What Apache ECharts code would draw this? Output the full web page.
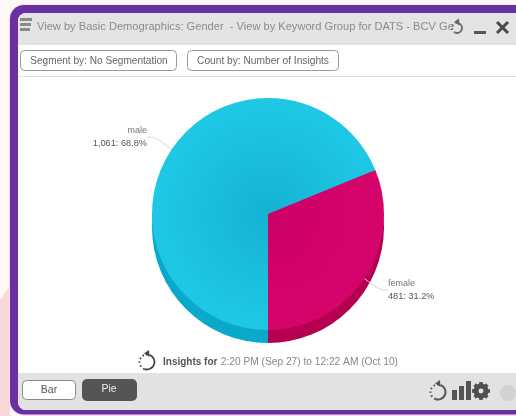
<!DOCTYPE html>
<html>
<head>
<meta charset="utf-8">
<style>html,body{margin:0;padding:0;background:#fdf8f7}#c{width:516px;height:416px}</style>
<script src="https://cdn.jsdelivr.net/npm/echarts@6/dist/echarts.min.js"></script>
</head>
<body>
<div id="c"></div>
<script>
// Gender split of the collected insights
const genders = ['male', 'female'];
const insights = [1061, 481];
const faceColors = [['#15b2d2', '#1ec7e4'], ['#cb0065', '#d5046b']];
const sideColors = ['#0aa9c9', '#b50052'];

const titleText = 'View by Basic Demographics: Gender  - View by Keyword Group for DATS - BCV Ge';
const segmentText = 'Segment by: No Segmentation';
const countText = 'Count by: Number of Insights';
const periodText = '2:20 PM (Sep 27) to 12:22 AM (Oct 10)';

const FONT = '"Liberation Sans", Arial, sans-serif';
const PIE_X = 268, PIE_Y = 214, PIE_R = 116, PIE_DEPTH = 13;

const chart = echarts.init(document.getElementById('c'));
const total = insights.reduce((a, b) => a + b, 0);

function faceFill(pair) {
  return {
    type: 'radial', global: true, x: PIE_X, y: PIE_Y, r: PIE_R,
    colorStops: [{ offset: 0, color: pair[0] }, { offset: 0.9, color: pair[1] }, { offset: 1, color: pair[1] }]
  };
}

function text(x, y, str, size, color, extra) {
  return {
    type: 'text', x, y, silent: true,
    style: Object.assign({ text: str, fontFamily: FONT, fontSize: size, fill: color, verticalAlign: 'middle' }, extra || {})
  };
}

function button(x, y, w, h, fill, stroke) {
  return {
    type: 'rect', silent: true,
    shape: { x, y, width: w, height: h, r: 4 },
    style: { fill, stroke, lineWidth: 1 }
  };
}

// Reload glyph: dotted left half, solid right half and a small arrow on top
function spinner(cx, cy, r, color, lw) {
  const rad = a => a * Math.PI / 180;
  return [
    { type: 'arc', silent: true, shape: { cx, cy, r, startAngle: rad(-70), endAngle: rad(110) },
      style: { stroke: color, fill: 'none', lineWidth: lw } },
    { type: 'arc', silent: true, shape: { cx, cy, r, startAngle: rad(110), endAngle: rad(270) },
      style: { stroke: color, fill: 'none', lineWidth: lw, lineDash: [1.5, 2.5] } },
    { type: 'polygon', silent: true,
      shape: { points: [[cx - 3, cy - r - 1], [cx + 2, cy - r - 4.5], [cx + 2.5, cy - r + 2.5]] },
      style: { fill: color } }
  ];
}

function gear(cx, cy, r, color) {
  const parts = [{ type: 'circle', silent: true, shape: { cx, cy, r: r * 0.62 },
    style: { fill: 'none', stroke: color, lineWidth: r * 0.62 } }];
  for (let i = 0; i < 8; i++) {
    const a = i * Math.PI / 4;
    parts.push({ type: 'line', silent: true,
      shape: { x1: cx + Math.cos(a) * r * 0.7, y1: cy + Math.sin(a) * r * 0.7, x2: cx + Math.cos(a) * r * 1.12, y2: cy + Math.sin(a) * r * 1.12 },
      style: { stroke: color, lineWidth: r * 0.46 } });
  }
  return parts;
}

const chrome = [
  // page backdrop and window frame
  { type: 'polygon', silent: true, shape: { points: [[0, 300], [10, 286], [10, 416], [0, 416]] }, style: { fill: '#f8d9d5' } },
  { type: 'rect', silent: true, shape: { x: 9, y: 4, width: 540, height: 412, r: 15 }, style: { fill: '#f5e2f4' } },
  { type: 'rect', silent: true, shape: { x: 10, y: 5, width: 540, height: 409.5, r: 14 }, style: { fill: '#6a2fa0' } },
  { type: 'rect', silent: true, shape: { x: 18, y: 13, width: 530, height: 397, r: 8 }, style: { fill: '#ffffff' } },
  // title bar
  { type: 'rect', silent: true, shape: { x: 18, y: 13, width: 530, height: 32, r: [8, 0, 0, 0] }, style: { fill: '#e4e4e4' } },
  { type: 'rect', silent: true, shape: { x: 20, y: 18, width: 12, height: 3 }, style: { fill: '#8a8a8a' } },
  { type: 'rect', silent: true, shape: { x: 20, y: 23, width: 11, height: 3 }, style: { fill: '#8a8a8a' } },
  { type: 'rect', silent: true, shape: { x: 20, y: 28, width: 10, height: 3 }, style: { fill: '#8a8a8a' } },
  text(37, 27, titleText, 11.1, '#8b8b8b'),
  ...spinner(457, 28, 5, '#666', 1.8),
  { type: 'rect', silent: true, shape: { x: 474, y: 31, width: 12, height: 3 }, style: { fill: '#555' } },
  { type: 'line', silent: true, shape: { x1: 497, y1: 22, x2: 508, y2: 33 }, style: { stroke: '#4a4a4a', lineWidth: 3 } },
  { type: 'line', silent: true, shape: { x1: 508, y1: 22, x2: 497, y2: 33 }, style: { stroke: '#4a4a4a', lineWidth: 3 } },
  // segmentation controls
  button(20.5, 50.5, 156, 20, '#fff', '#9a9a9a'),
  text(99, 61, segmentText, 10.1, '#666', { align: 'center' }),
  button(187.5, 50.5, 151, 20, '#fff', '#9a9a9a'),
  text(263, 61, countText, 10.2, '#666', { align: 'center' }),
  { type: 'rect', silent: true, shape: { x: 18, y: 76, width: 530, height: 1 }, style: { fill: '#dedede' } },
  // reporting period
  ...spinner(147, 362, 7.5, '#444', 1.8),
  { type: 'text', x: 163, y: 362, silent: true, style: {
    text: '{b|Insights for} {r|' + periodText + '}', verticalAlign: 'middle', fontFamily: FONT,
    rich: {
      b: { fontFamily: FONT, fontSize: 10, fontWeight: 'bold', fill: '#555' },
      r: { fontFamily: FONT, fontSize: 10.2, fill: '#888' }
    }
  } },
  // footer bar
  { type: 'rect', silent: true, shape: { x: 18, y: 373, width: 530, height: 37, r: [0, 0, 0, 8] }, style: { fill: '#e2e2e2' } },
  button(22.5, 380.5, 53, 19, '#fff', '#8a8a8a'),
  text(49, 390, 'Bar', 10.5, '#555', { align: 'center' }),
  { type: 'rect', silent: true, shape: { x: 82, y: 379, width: 55, height: 22, r: 5 }, style: { fill: '#555555' } },
  text(109, 389, 'Pie', 10.5, '#eeeeee', { align: 'center' }),
  ...spinner(438, 392, 7.5, '#555', 2),
  { type: 'rect', silent: true, shape: { x: 452, y: 390, width: 5, height: 10 }, style: { fill: '#555' } },
  { type: 'rect', silent: true, shape: { x: 459, y: 386, width: 5, height: 14 }, style: { fill: '#555' } },
  { type: 'rect', silent: true, shape: { x: 466, y: 381, width: 5, height: 19 }, style: { fill: '#555' } },
  ...gear(481, 391, 8, '#4f4f4f'),
  { type: 'circle', silent: true, shape: { cx: 508, cy: 393, r: 8 }, style: { fill: '#d2d2d2' } }
];

const labelBase = {
  formatter: p => '{n|' + p.name + '}\n{v|' + p.value.toLocaleString('en-US') + ': ' + (p.value / total * 100).toFixed(1) + '%}',
  rich: {
    n: { fontFamily: FONT, fontSize: 9, color: '#777', lineHeight: 12.5 },
    v: { fontFamily: FONT, fontSize: 9.2, color: '#555', lineHeight: 12.5 }
  }
};

const sideData = genders.map((g, i) => ({ name: g, value: insights[i], itemStyle: { color: sideColors[i] } }));
const faceData = genders.map((g, i) => ({ name: g, value: insights[i], itemStyle: { color: faceFill(faceColors[i]) } }));

chart.setOption({
  animation: false,
  graphic: { elements: chrome.map(e => Object.assign({ z: -1 }, e)) },
  series: [
    { // rim of the disc, offset downward
      type: 'pie', silent: true, z: 2, radius: PIE_R, center: [PIE_X, PIE_Y + PIE_DEPTH],
      startAngle: -90, clockwise: true, label: { show: false }, labelLine: { show: false },
      data: sideData
    },
    { // top face
      type: 'pie', silent: true, z: 3, radius: PIE_R, center: [PIE_X, PIE_Y],
      startAngle: -90, clockwise: true,
      label: Object.assign({ show: true, position: 'outside', alignTo: 'none' }, labelBase),
      labelLine: { show: true, length: 12, length2: 8, smooth: 0.4, lineStyle: { color: '#d8d8d8', width: 1 } },
      labelLayout: p => p.dataIndex === 0
        ? { x: 147, y: 137, align: 'right', verticalAlign: 'middle' }
        : { x: 388, y: 290, align: 'left', verticalAlign: 'middle' },
      data: faceData
    }
  ]
});
</script>
</body>
</html>
